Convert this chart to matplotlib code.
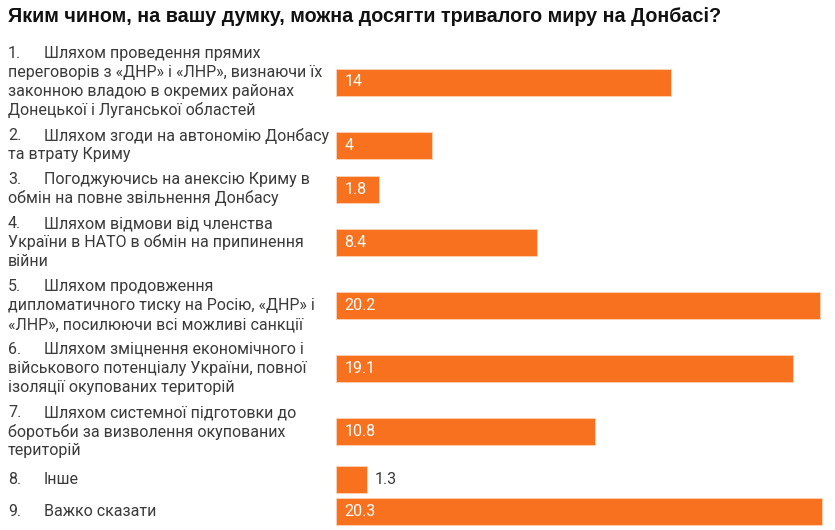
"""
Horizontal bar chart: ways to reach lasting peace in Donbas (survey, %).
"""

import matplotlib
import matplotlib.pyplot as plt

matplotlib.use('Agg')

TITLE = "Яким чином, на вашу думку, можна досягти тривалого миру на Донбасі?"

# item numbers and wrapped label lines, as in the source
numbers = ["1.", "2.", "3.", "4.", "5.", "6.", "7.", "8.", "9."]
label_lines = [
    ["Шляхом проведення прямих",
     "переговорів з «ДНР» і «ЛНР», визнаючи їх",
     "законною владою в окремих районах",
     "Донецької і Луганської областей"],
    ["Шляхом згоди на автономію Донбасу",
     "та втрату Криму"],
    ["Погоджуючись на анексію Криму в",
     "обмін на повне звільнення Донбасу"],
    ["Шляхом відмови від членства",
     "України в НАТО в обмін на припинення",
     "війни"],
    ["Шляхом продовження",
     "дипломатичного тиску на Росію, «ДНР» і",
     "«ЛНР», посилюючи всі можливі санкції"],
    ["Шляхом зміцнення економічного і",
     "військового потенціалу України, повної",
     "ізоляції окупованих територій"],
    ["Шляхом системної підготовки до",
     "боротьби за визволення окупованих",
     "територій"],
    ["Інше"],
    ["Важко сказати"],
]
values = [14, 4, 1.8, 8.4, 20.2, 19.1, 10.8, 1.3, 20.3]

BAR_COLOR = '#F7711F'
TEXT_COLOR = '#3a3a3a'
FONT = ['Roboto', 'DejaVu Sans']
FS = 11.5

W, H = 835, 530
BAR_LEFT = 336      # px
PX_PER_UNIT = 23.94
LINE_H = 19.0       # px per label line
BAR_H = 27          # px

fig = plt.figure(figsize=(W / 100, H / 100), dpi=100)
fig.patch.set_facecolor('white')

# axes covering the bar area, y measured in pixels from the top
ax = fig.add_axes([BAR_LEFT / W, 0, (W - BAR_LEFT) / W, 1])
ax.set_xlim(0, (W - BAR_LEFT) / PX_PER_UNIT)
ax.set_ylim(H, 0)
ax.axis('off')

# row layout from the number of label lines
centers = []
top = 41.0
for lines in label_lines:
    block = max(len(lines) * LINE_H + 6, 32)
    centers.append(top + block / 2)
    top += block

ax.barh(centers, values, height=BAR_H, color=BAR_COLOR,
        edgecolor='#FBD3B5', linewidth=0.6)

for yc, v in zip(centers, values):
    txt = f'{v:g}'
    if v >= 1.5:
        ax.text(0.35, yc, txt, ha='left', va='center', color='white',
                fontsize=FS, family=FONT)
    else:
        ax.text(v + 0.3, yc, txt, ha='left', va='center', color=TEXT_COLOR,
                fontsize=FS, family=FONT)

# category labels on the left, first line indented after the number
for num, lines, yc in zip(numbers, label_lines, centers):
    y0 = yc - (len(lines) - 1) * LINE_H / 2
    for i, line in enumerate(lines):
        y = y0 + i * LINE_H
        if i == 0:
            fig.text(8 / W, 1 - y / H, num, ha='left', va='center',
                     color=TEXT_COLOR, fontsize=FS, family=FONT)
            x = 44
        else:
            x = 8
        fig.text(x / W, 1 - y / H, line, ha='left', va='center',
                 color=TEXT_COLOR, fontsize=FS, family=FONT)

fig.text(8 / W, 1 - 17 / H, TITLE, ha='left', va='center', color='#111111',
         fontsize=14.2, fontweight='bold', fontstretch='condensed',
         family=['Liberation Sans Narrow', 'Liberation Sans', 'DejaVu Sans'])

plt.savefig('out.png', dpi=100)
plt.close()
